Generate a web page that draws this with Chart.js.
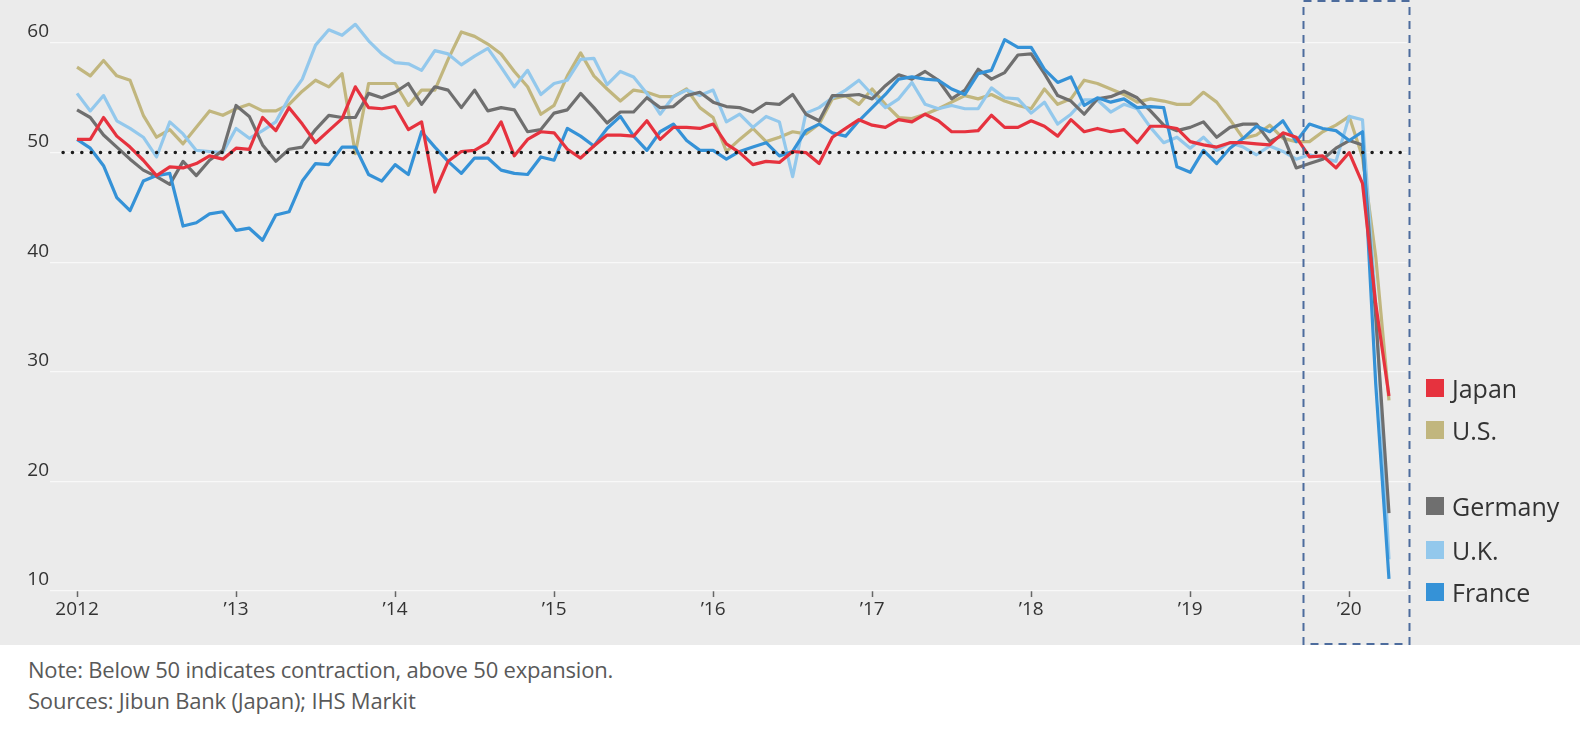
<!DOCTYPE html>
<html><head><meta charset="utf-8">
<script src="https://cdn.jsdelivr.net/npm/chart.js@4.4.1/dist/chart.umd.min.js"></script>
<style>
html,body{margin:0;padding:0;background:#fff;}
body{width:1584px;height:729px;position:relative;overflow:hidden;font-family:"Open Sans",sans-serif;}
#panel{position:absolute;left:0;top:0;width:1580px;height:645px;background:#ebebeb;}
#wrap{position:absolute;left:0;top:0;width:1580px;height:645px;}
.leg{position:absolute;left:1426px;height:30px;display:flex;align-items:center;font-size:25px;color:#333;white-space:nowrap;}
.sw{width:18px;height:18px;margin-right:8px;flex:none;}
.note{position:absolute;left:28px;font-size:22px;color:#595959;white-space:nowrap;line-height:26px;letter-spacing:-0.2px;}
</style></head>
<body>
<div id="panel"><div id="wrap"><canvas id="c"></canvas></div><div id="legend"></div></div>
<div class="note" style="top:656px">Note: Below 50 indicates contraction, above 50 expansion.</div>
<div class="note" style="top:687px">Sources: Jibun Bank (Japan); IHS Markit</div>
<script>
// Monthly composite PMI, Jan 2012 (index 0) .. Apr 2020 (index 99)
const japan = [51.2,51.2,53.2,51.5,50.5,49.3,47.9,48.7,48.6,49.0,49.7,49.4,50.4,50.3,53.2,52.0,54.1,
52.6,50.9,52.0,53.1,56.0,54.1,54.0,54.2,52.1,52.8,46.4,49.2,50.1,50.2,50.9,52.8,49.7,
51.2,51.9,51.8,50.3,49.5,50.6,51.6,51.6,51.5,52.9,51.2,52.3,52.3,52.2,52.6,50.8,
50.0,48.9,49.2,49.1,50.1,50.0,49.0,51.4,52.2,53.0,52.5,52.3,53.0,52.8,53.5,52.9,51.9,
51.9,52.0,53.4,52.3,52.3,52.9,52.4,51.5,53.0,51.9,52.2,51.9,52.1,50.9,52.4,52.4,52.2,
51.0,50.7,50.5,50.9,50.9,50.8,50.7,51.8,51.4,49.6,49.7,48.6,50.0,47.2,36.2,27.8];
const us = [57.8,57.0,58.4,57.0,56.6,53.4,51.4,52.1,50.8,52.3,53.8,53.4,54.0,54.4,53.8,53.8,54.4,
55.6,56.6,56.0,57.2,49.9,56.3,56.3,56.3,54.3,55.7,55.7,58.5,61.0,60.6,59.9,59.0,57.4,
56.0,53.5,54.3,57.0,59.1,57.0,55.8,54.7,55.7,55.5,55.1,55.1,55.8,54.1,53.2,50.1,
51.2,52.2,51.0,51.4,51.9,51.7,52.6,54.9,55.2,54.4,55.8,54.4,53.2,53.1,53.5,54.0,54.6,
55.2,54.9,55.3,54.7,54.3,54.0,55.8,54.4,54.9,56.6,56.3,55.8,55.3,54.6,54.9,54.7,54.4,
54.4,55.5,54.6,53.0,51.3,51.6,52.5,51.3,51.0,51.0,51.9,52.5,53.3,49.6,40.5,27.4];
const germany = [53.9,53.2,51.6,50.5,49.4,48.4,47.8,47.1,49.2,47.9,49.3,50.2,54.3,53.3,50.7,49.2,50.3,
50.5,52.1,53.4,53.2,53.2,55.4,55.0,55.5,56.3,54.4,56.0,55.7,54.1,55.7,53.8,54.1,53.9,
51.9,52.1,53.6,53.9,55.4,54.1,52.7,53.7,53.7,55.0,54.1,54.2,55.2,55.5,54.6,54.2,
54.1,53.7,54.5,54.4,55.3,53.5,52.9,55.2,55.2,55.3,54.9,56.1,57.1,56.7,57.4,56.6,54.9,
55.7,57.6,56.7,57.3,58.9,59.0,57.2,55.2,54.7,53.5,54.9,55.1,55.6,55.0,53.8,52.5,52.0,
52.3,52.8,51.4,52.3,52.6,52.6,51.0,51.6,48.6,49.0,49.4,50.4,51.1,50.7,35.0,17.1];
const uk = [55.4,53.8,55.2,52.9,52.2,51.4,49.6,52.8,51.7,50.2,50.1,50.0,52.2,51.3,52.0,52.8,55.0,
56.7,59.8,61.2,60.7,61.7,60.2,59.0,58.2,58.1,57.5,59.3,59.0,58.0,58.8,59.5,57.8,56.0,
57.5,55.3,56.3,56.6,58.5,58.6,56.2,57.4,56.9,55.4,53.5,55.1,55.7,55.2,55.7,52.8,
53.5,52.3,53.3,52.8,47.8,53.6,54.1,55.0,55.7,56.6,55.3,54.1,54.9,56.4,54.4,54.0,54.3,
54.0,54.0,55.9,55.0,54.9,53.6,54.6,52.6,53.5,54.8,54.8,53.7,54.4,54.0,52.3,50.9,51.4,
50.4,51.4,50.2,50.9,50.5,49.8,50.6,50.1,49.4,49.8,49.5,49.2,53.3,53.0,36.0,12.9];
const france = [51.2,50.4,48.8,45.9,44.7,47.4,47.9,48.1,43.3,43.6,44.4,44.6,42.9,43.1,42.0,44.3,44.6,
47.4,49.0,48.9,50.5,50.5,48.0,47.4,48.9,48.0,51.9,50.5,49.2,48.1,49.5,49.5,48.4,48.1,
48.0,49.6,49.3,52.2,51.5,50.6,52.2,53.3,51.5,50.2,51.9,52.6,51.1,50.2,50.2,49.4,
50.1,50.5,50.9,49.7,50.1,52.0,52.6,51.8,51.5,52.9,54.1,55.3,56.7,56.9,56.7,56.6,55.8,
55.3,57.2,57.5,60.3,59.6,59.6,57.6,56.4,56.9,54.3,55.0,54.6,54.9,54.1,54.2,54.1,48.7,
48.2,50.2,49.0,50.4,51.3,52.4,51.9,52.9,51.0,52.6,52.2,52.0,51.1,51.9,28.9,11.1];

const seriesNames = ["Japan","U.S.","Germany","U.K.","France"];
const yearLabels = ["2012","\u201913","\u201914","\u201915","\u201916","\u201917","\u201918","\u201919","\u201920"];
const yearTickIndex = [0,12,24,36,48,60,72,84,96];
const yTickValues = [10,20,30,40,50,60];
const referenceLevel = 50;
const highlightStart = 92.5;   // mid Sep/Oct 2019
const highlightEnd = 100.5;

// styles (kept apart from data)
const colors = {"Japan":"#e6323e","U.S.":"#c1b67e","Germany":"#6f6f6f","U.K.":"#93c8ec","France":"#3592d7"};
const legendTop = {"Japan":373,"U.S.":415,"Germany":491,"U.K.":535,"France":577};
const drawOrder = ["Japan","France","Germany","U.K.","U.S."]; // first = on top
const valuesByName = {"Japan":japan,"U.S.":us,"Germany":germany,"U.K.":uk,"France":france};

Chart.defaults.font.family = '"Open Sans", sans-serif';

const overlay = {
  id:'overlay',
  afterDatasetsDraw(chart){
    const {ctx, scales:{x,y}} = chart;
    ctx.save();
    const y50 = y.getPixelForValue(referenceLevel);
    ctx.beginPath();
    ctx.setLineDash([0, 9.35]);
    ctx.lineCap = 'round';
    ctx.lineWidth = 3.6;
    ctx.strokeStyle = '#1c1c1c';
    ctx.moveTo(x.getPixelForValue(-1.05), y50);
    ctx.lineTo(x.getPixelForValue(100.2), y50);
    ctx.stroke();
    ctx.setLineDash([8,6]);
    ctx.lineCap = 'butt';
    ctx.lineWidth = 2;
    ctx.strokeStyle = '#4d6c9d';
    const x0 = Math.round(x.getPixelForValue(highlightStart)) + 0.5;
    const x1 = Math.round(x.getPixelForValue(highlightEnd)) + 0.5;
    ctx.strokeRect(x0, 1, x1 - x0, chart.height - 2);
    ctx.restore();
  }
};

const datasets = drawOrder.map(name => ({
  label: name,
  data: valuesByName[name].map((v,i) => ({x:i, y:v})),
  borderColor: colors[name],
  backgroundColor: colors[name],
  borderWidth: 3.2,
  pointRadius: 0,
  tension: 0,
  borderJoinStyle: 'round',
  borderCapStyle: 'butt'
}));

new Chart(document.getElementById('c'), {
  type: 'line',
  data: { datasets },
  plugins: [overlay],
  options: {
    responsive: true,
    maintainAspectRatio: false,
    animation: false,
    events: [],
    layout: { padding: { left: 0, right: 173, top: 0, bottom: 0 } },
    plugins: { legend: { display: false }, tooltip: { enabled: false } },
    scales: {
      x: {
        type: 'linear',
        min: -2.04, max: 100.36,
        border: { display: false },
        grid: { drawOnChartArea: false, drawTicks: true, tickLength: 6, tickColor: '#666', tickWidth: 1.5 },
        afterBuildTicks: s => { s.ticks = yearTickIndex.map(v => ({value: v})); },
        afterFit: s => { s.height = 54; s.paddingLeft = 0; s.paddingRight = 0; },
        ticks: {
          autoSkip: false, maxRotation: 0, padding: 1,
          color: '#333', font: { size: 19 },
          callback: (v, i) => yearLabels[i]
        }
      },
      y: {
        type: 'linear',
        min: 10, max: 63.92,
        border: { display: false },
        grid: { color: '#f8f8f8', lineWidth: 1.3, drawTicks: false },
        afterBuildTicks: s => { s.ticks = yTickValues.map(v => ({value: v})); },
        afterFit: s => { s.width = 50; s.paddingTop = 0; s.paddingBottom = 0; },
        ticks: { padding: 1, labelOffset: -11, color: '#333', font: { size: 19 }, callback: v => v }
      }
    }
  }
});

const leg = document.getElementById('legend');
seriesNames.forEach(name => {
  const d = document.createElement('div');
  d.className = 'leg';
  d.style.top = legendTop[name] + 'px';
  d.innerHTML = '<span class="sw" style="background:' + colors[name] + '"></span><span>' + name + '</span>';
  leg.appendChild(d);
});
</script>
</body></html>
